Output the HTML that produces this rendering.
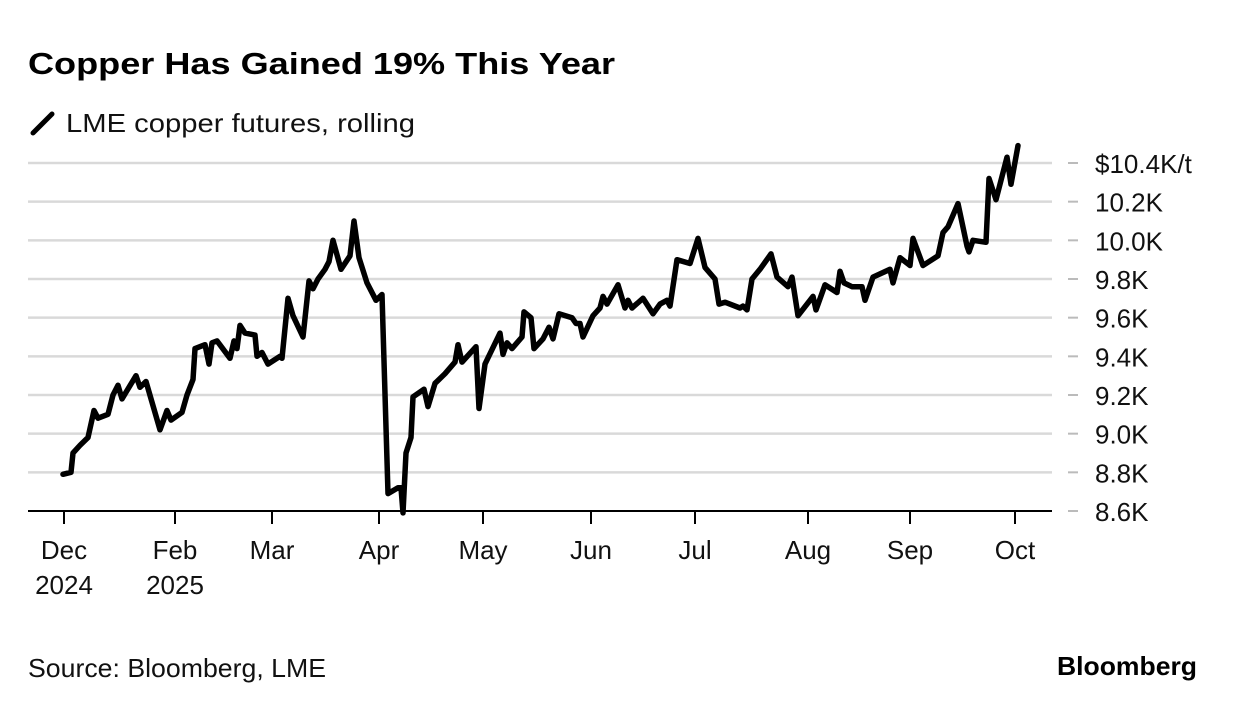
<!DOCTYPE html>
<html><head><meta charset="utf-8"><style>
body{margin:0;background:#fff;font-family:"Liberation Sans",sans-serif;}
svg text{font-family:"Liberation Sans",sans-serif;}
</style></head><body>
<svg width="1236" height="710" viewBox="0 0 1236 710">
<text x="28" y="74" font-size="31" font-weight="bold" fill="#000" textLength="587" lengthAdjust="spacingAndGlyphs">Copper Has Gained 19% This Year</text>
<g>
<line x1="33" y1="133" x2="52" y2="114" stroke="#000" stroke-width="5" stroke-linecap="round"/>
<text x="66" y="132" font-size="26" fill="#111" textLength="349" lengthAdjust="spacingAndGlyphs">LME copper futures, rolling</text>
</g>
<g id="grid"></g><g id="axes"></g><g id="line"></g>
<text x="28" y="677" font-size="26" fill="#111" textLength="298" lengthAdjust="spacingAndGlyphs">Source: Bloomberg, LME</text>
<text x="1197" y="675" font-size="26" font-weight="bold" text-anchor="end" fill="#000" textLength="140" lengthAdjust="spacingAndGlyphs">Bloomberg</text>
</svg>
<script>
const sessions=[1,9,11,18,26,32,36,46,51,56,60,74,78,84,98,105,109,120,125,131,133,143,147,150,155,168,172,175,178,183,193,195,200,206,218,220,226,231,241,247,251,256,263,267,271,279,288,292,297,305,314,320,326,336,339,341,344,349,351,362,366,373,383,393,396,400,414,417,423,438,441,445,450,460,462,469,472,481,487,491,497,510,514,518,521,531,538,541,545,556,563,566,570,581,591,598,605,608,615,628,636,643,653,657,663,678,681,685,690,698,709,715,726,730,736,751,754,763,775,778,782,790,800,803,811,828,831,838,848,851,861,876,881,886,896,905,907,911,924,927,934,945,949,956];
const prices=[8790,8800,8900,8940,8980,9120,9080,9100,9200,9250,9180,9300,9240,9270,9020,9120,9070,9110,9200,9280,9440,9460,9360,9470,9480,9390,9480,9440,9560,9520,9510,9400,9420,9360,9400,9390,9700,9610,9500,9790,9750,9800,9850,9890,10000,9850,9920,10100,9910,9780,9690,9720,8690,8720,8720,8590,8900,8980,9190,9230,9140,9260,9310,9370,9460,9370,9450,9130,9360,9520,9410,9470,9440,9500,9630,9600,9440,9490,9550,9490,9620,9600,9570,9570,9500,9610,9650,9710,9670,9770,9650,9690,9650,9700,9620,9670,9690,9660,9900,9880,10010,9860,9800,9670,9680,9650,9660,9640,9800,9850,9930,9810,9760,9810,9610,9710,9640,9770,9730,9840,9780,9760,9760,9690,9810,9850,9780,9910,9870,10010,9870,9920,10040,10070,10190,9970,9940,10000,9990,10320,10210,10430,10290,10490];
const yTicks=[8600,8800,9000,9200,9400,9600,9800,10000,10200,10400];
const yTickLabels=["8.6K","8.8K","9.0K","9.2K","9.4K","9.6K","9.8K","10.0K","10.2K","$10.4K/t"];
const monthTicks=[2,113,210,317,421,529,633,746,848,953];
const monthLabels=["Dec","Feb","Mar","Apr","May","Jun","Jul","Aug","Sep","Oct"];
const yearLabels=["2024","2025","","","","","","","",""];
const NS="http://www.w3.org/2000/svg";
const xS=s=>62+s*(1018-62)/956;
const yS=v=>511-(v-8600)*(511-163)/1800;
function mk(t,a,p){const e=document.createElementNS(NS,t);for(const k in a)e.setAttribute(k,a[k]);p.appendChild(e);return e;}
const grid=document.getElementById('grid'),axes=document.getElementById('axes'),lg=document.getElementById('line');
yTicks.forEach((v,i)=>{
 const y=yS(v);
 if(i>0){const g=mk('line',{x1:28,x2:1052,y1:y,y2:y,stroke:'#d9d9d9','stroke-width':2.5},grid);
 
 }
 mk('line',{x1:1068,x2:1078,y1:y,y2:y,stroke:'#bbb','stroke-width':2},axes);
 const t=mk('text',{x:1095,y:y+10,'font-size':26,fill:'#111'},axes);t.textContent=yTickLabels[i];
 
 
});
const base=mk('line',{x1:28,x2:1052,y1:511,y2:511,stroke:'#000','stroke-width':2},axes);


monthTicks.forEach((s,i)=>{
 const x=xS(s);
 mk('line',{x1:x,x2:x,y1:511,y2:524,stroke:'#000','stroke-width':2},axes);
 const t=mk('text',{x:x,y:559,'font-size':26,fill:'#111','text-anchor':'middle'},axes);t.textContent=monthLabels[i];
 
 
 if(yearLabels[i]){const y=mk('text',{x:x,y:594,'font-size':26,fill:'#111','text-anchor':'middle'},axes);y.textContent=yearLabels[i];
 
 }
});
const d=sessions.map((s,i)=>(i?'L':'M')+xS(s).toFixed(1)+' '+yS(prices[i]).toFixed(1)).join(' ');
const p=mk('path',{d:d,fill:'none',stroke:'#000','stroke-width':5.5,'stroke-linejoin':'round','stroke-linecap':'round'},lg);


</script>
</body></html>
